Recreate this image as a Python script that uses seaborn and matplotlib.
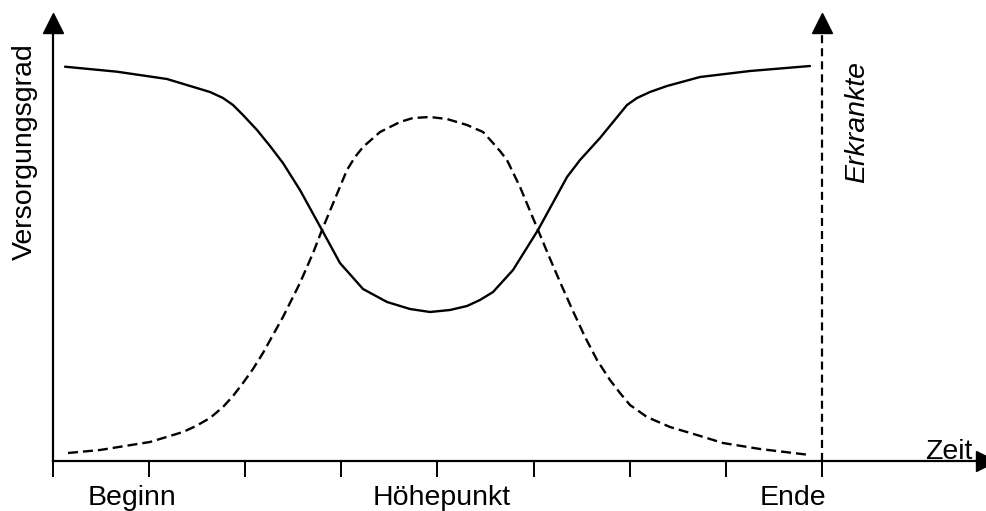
import matplotlib
matplotlib.use("Agg")
import matplotlib.pyplot as plt
import seaborn as sns
import pandas as pd

sns.set_theme(style="white")
plt.rcParams['font.family'] = ['Liberation Sans', 'DejaVu Sans']
plt.rcParams['lines.scale_dashes'] = False

# Time axis (tick units), curve values (arbitrary units)
versorgung_x = [0.125, 0.666, 1.186, 1.634, 1.769, 1.873, 1.977, 2.123, 2.258, 2.393,
                2.570, 2.799, 2.986, 3.226, 3.476, 3.715, 3.923, 4.131, 4.308, 4.443,
                4.579, 4.787, 5.047, 5.349, 5.484, 5.692, 5.973, 6.077, 6.212, 6.389,
                6.733, 7.253, 7.877]
versorgung_y = [39.43, 38.93, 38.2, 36.9, 36.3, 35.6, 34.6, 33.1, 31.5, 29.8,
                27.1, 23.1, 19.8, 17.2, 15.9, 15.2, 14.9, 15.1, 15.5, 16.1,
                16.9, 19.1, 23.1, 28.4, 30.1, 32.3, 35.6, 36.3, 36.9, 37.5,
                38.4, 39.0, 39.5]

erkrankte_x = [0.156, 0.489, 1.009, 1.353, 1.488, 1.634, 1.769, 1.873, 1.977, 2.081,
               2.185, 2.393, 2.570, 2.706, 2.799, 2.955, 3.059, 3.143, 3.226, 3.403,
               3.611, 3.746, 3.923, 4.100, 4.308, 4.475, 4.579, 4.651, 4.724, 4.860,
               4.964, 5.047, 5.151, 5.276, 5.401, 5.536, 5.661, 5.796, 5.900, 6.004,
               6.181, 6.420, 6.701, 6.972, 7.357, 7.877]
erkrankte_y = [0.8, 1.1, 1.9, 2.9, 3.5, 4.3, 5.4, 6.5, 7.8, 9.2,
               10.8, 14.4, 17.8, 20.8, 23.1, 26.7, 29.1, 30.4, 31.4, 32.9,
               33.9, 34.3, 34.4, 34.2, 33.6, 32.9, 31.8, 31.0, 30.1, 27.4,
               25.0, 23.1, 20.7, 17.9, 15.2, 12.4, 10.1, 8.1, 6.8, 5.6,
               4.4, 3.4, 2.6, 1.8, 1.2, 0.6]

tick_positions = [0, 1, 2, 3, 4, 5, 6, 7, 8]
phase_labels = ["Beginn", "Höhepunkt", "Ende"]
phase_label_positions = [0.822, 4.048, 7.70]
end_position = 8

df_v = pd.DataFrame({"t": versorgung_x, "v": versorgung_y})
df_e = pd.DataFrame({"t": erkrankte_x, "v": erkrankte_y})

W, H = 986, 511
fig = plt.figure(figsize=(W / 100, H / 100), dpi=100)
x0, x1 = 53, 986
yb, yt = 461, 23
ax = fig.add_axes([x0 / W, (H - yb) / H, (x1 - x0) / W, (yb - yt) / H])
ax.set_xlim(0, (x1 - x0) / 96.1)
ax.set_ylim(0, (yb - yt) / 10)

lw = 1.7
sns.lineplot(data=df_v, x="t", y="v", ax=ax, color="black", linewidth=lw, sort=False)
sns.lineplot(data=df_e, x="t", y="v", ax=ax, color="black", linewidth=lw, sort=False)
for ln in ax.lines[:2]:
    ln.set_solid_joinstyle("round")
    ln.set_dash_joinstyle("round")
ax.lines[1].set_dashes([7.2, 3.6])

# vertical dashed line at the end
ax.axvline(end_position, color="black", linewidth=1.6, dashes=[5.8, 3.6])
ax.plot([end_position], [1], transform=ax.get_xaxis_transform(), marker="^",
        markersize=14.4, color="black", clip_on=False)

# axes arrows
ax.plot([0], [1], transform=ax.transAxes, marker="^", markersize=14.4,
        color="black", clip_on=False)
ax.plot([1], [0], transform=ax.transAxes, marker=">", markersize=14.4,
        color="black", clip_on=False)

for s in ["top", "right"]:
    ax.spines[s].set_visible(False)
for s in ["left", "bottom"]:
    ax.spines[s].set_color("black")
    ax.spines[s].set_linewidth(1.6)

ax.set_yticks([])
ax.set_xticks(tick_positions)
ax.set_xticklabels([""] * len(tick_positions))
ax.tick_params(axis="x", which="major", direction="out", length=11.5, width=1.4,
               color="black", bottom=True)
ax.set_xticks(phase_label_positions, minor=True)
ax.set_xticklabels(phase_labels, minor=True)
ax.tick_params(axis="x", which="minor", length=0, pad=17, labelsize=20.5,
               labelcolor="black")
ax.set_xlabel("")
ax.set_ylabel("")

fig.text(25 / W, 1 - 152 / H, "Versorgungsgrad", rotation=90, ha="center",
         va="center", fontsize=20.5, color="black")
fig.text(857 / W, 1 - 122 / H, "Erkrankte", rotation=90, ha="center",
         va="center", fontsize=20.5, style="italic", color="black")
fig.text(925 / W, 1 - 459 / H, "Zeit", ha="left", va="baseline", fontsize=20.5,
         color="black")

fig.savefig("out.png", dpi=100)
